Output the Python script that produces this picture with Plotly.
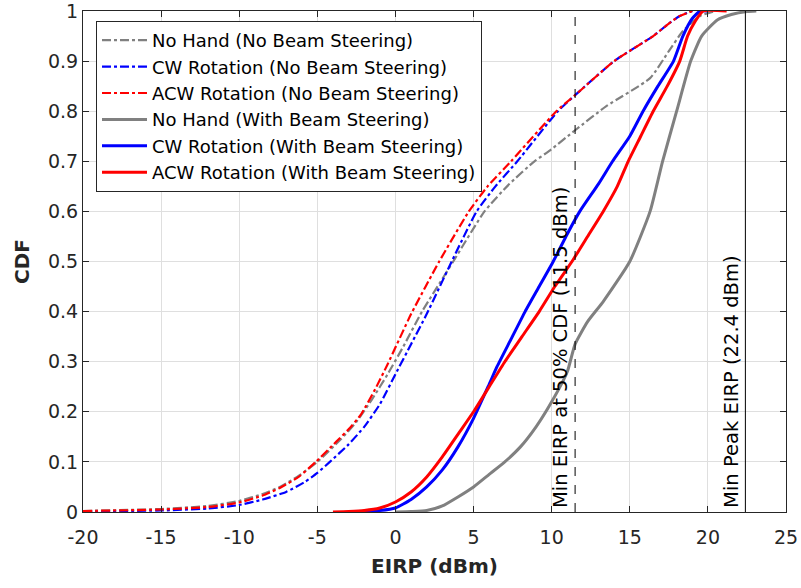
import plotly.graph_objects as go

# ---------------- data ----------------
nh_nb_x = [-20, -15, -12, -10, -8.5, -7.4, -6.2, -5.0, -3.5, -2.5, -1.5, -0.5, 0.5, 1.7, 3.7, 5.7, 7.3, 8.9, 9.9, 11.5, 13.5, 16.3, 17.5, 18.4, 19.5, 20.5]
nh_nb_y = [0.002, 0.006, 0.012, 0.022, 0.036, 0.05, 0.072, 0.1, 0.145, 0.18, 0.225, 0.275, 0.33, 0.4, 0.5, 0.6, 0.655, 0.7, 0.722, 0.762, 0.81, 0.866, 0.92, 0.96, 0.99, 1.0]

cw_nb_x = [-20, -15, -12, -10, -8.5, -7, -5.8, -5.0, -4.2, -3.0, -2.0, -1.0, 0.0, 1.0, 2.0, 3.6, 5.2, 6.4, 7.8, 10.4, 11.5, 14, 16.5, 17.5, 18.2, 19]
cw_nb_y = [0.001, 0.003, 0.007, 0.014, 0.025, 0.04, 0.06, 0.078, 0.1, 0.135, 0.17, 0.215, 0.275, 0.335, 0.395, 0.5, 0.6, 0.65, 0.7, 0.8, 0.832, 0.9, 0.95, 0.975, 0.99, 1.0]

acw_nb_x = [-20, -15, -12, -10, -8.5, -7.4, -6.2, -5.1, -3.8, -3.0, -2.2, -1.3, -0.5, 1.0, 2.8, 4.7, 5.9, 7.4, 10.3, 11.5, 14, 16.5, 17.5, 18.2, 19]
acw_nb_y = [0.002, 0.005, 0.01, 0.019, 0.033, 0.048, 0.07, 0.1, 0.14, 0.165, 0.195, 0.245, 0.295, 0.395, 0.5, 0.6, 0.65, 0.7, 0.8, 0.832, 0.9, 0.95, 0.975, 0.99, 1.0]

nh_bs_x = [0, 1, 2, 3, 4, 5, 6, 7, 8, 9, 10, 11, 11.5, 12.3, 13.3, 15, 16.3, 17.1, 18.0, 18.9, 19.6, 20.6, 21.5, 22.5, 23.1]
nh_bs_y = [0.0, 0.001, 0.003, 0.012, 0.03, 0.05, 0.075, 0.1, 0.13, 0.17, 0.22, 0.28, 0.335, 0.38, 0.42, 0.5, 0.6, 0.7, 0.8, 0.9, 0.95, 0.982, 0.993, 0.999, 1.0]

cw_bs_x = [-3, -2, -1, 0, 1, 2, 3, 4, 5, 6, 6.5, 7.4, 8.3, 9.2, 10.1, 11.0, 11.8, 13, 13.9, 15, 15.85, 16.8, 17.8, 18.4, 19, 19.5, 20]
cw_bs_y = [0.0, 0.001, 0.003, 0.008, 0.025, 0.05, 0.084, 0.13, 0.187, 0.255, 0.29, 0.345, 0.4, 0.45, 0.5, 0.555, 0.6, 0.655, 0.7, 0.75, 0.8, 0.85, 0.9, 0.95, 0.985, 1.0, 1.0]

acw_bs_x = [-4, -3, -2, -1, 0, 1, 2, 3, 4, 5, 6, 7, 8.1, 9.2, 10.2, 11.3, 12.3, 13.3, 14.2, 14.9, 15.7, 16.5, 17.4, 18.2, 18.7, 19.2, 19.7, 21.2]
acw_bs_y = [0.0, 0.001, 0.003, 0.008, 0.02, 0.04, 0.07, 0.11, 0.155, 0.2, 0.25, 0.3, 0.35, 0.4, 0.45, 0.5, 0.55, 0.6, 0.65, 0.7, 0.75, 0.8, 0.85, 0.9, 0.95, 0.98, 1.0, 1.0]

min_eirp_50 = 11.5
min_peak_eirp = 22.4
x_ticks = [-20, -15, -10, -5, 0, 5, 10, 15, 20, 25]
y_ticks = [0, 0.1, 0.2, 0.3, 0.4, 0.5, 0.6, 0.7, 0.8, 0.9, 1]

series = [
    ("No Hand (No Beam Steering)", nh_nb_x, nh_nb_y, "#808080", "dashdot", 2.2),
    ("CW Rotation (No Beam Steering)", cw_nb_x, cw_nb_y, "#0000ff", "dashdot", 2.2),
    ("ACW Rotation (No Beam Steering)", acw_nb_x, acw_nb_y, "#ff0000", "dashdot", 2.2),
    ("No Hand (With Beam Steering)", nh_bs_x, nh_bs_y, "#808080", "solid", 3),
    ("CW Rotation (With Beam Steering)", cw_bs_x, cw_bs_y, "#0000ff", "solid", 3),
    ("ACW Rotation (With Beam Steering)", acw_bs_x, acw_bs_y, "#ff0000", "solid", 3),
]

FONT = "DejaVu Sans, Arial, Helvetica, sans-serif"
fig = go.Figure()
for i, (name, xs, ys, col, dash, w) in enumerate(series):
    fig.add_trace(go.Scatter(x=xs, y=ys, mode="lines", name=name, legendgroup=f"g{i}",
                             line=dict(color=col, dash=dash, width=w, shape="spline", smoothing=0.5)))

fig.add_vline(x=min_eirp_50, line=dict(color="#000000", dash="dash", width=1))
fig.add_vline(x=min_peak_eirp, line=dict(color="#000000", width=1))

fig.add_annotation(x=min_eirp_50, y=0, xref="x", yref="y", text="Min EIRP at 50% CDF (11.5 dBm)",
                   textangle=-90, showarrow=False, xanchor="right", yanchor="bottom",
                   xshift=-1, yshift=2, font=dict(family=FONT, size=19.5, color="#000000"))
fig.add_annotation(x=min_peak_eirp, y=0, xref="x", yref="y", text="Min Peak EIRP (22.4 dBm)",
                   textangle=-90, showarrow=False, xanchor="right", yanchor="bottom",
                   xshift=-1, yshift=2, font=dict(family=FONT, size=19.5, color="#000000"))

axis_common = dict(showline=True, linecolor="#262626", linewidth=1, mirror="ticks",
                   ticks="inside", ticklen=6, tickcolor="#262626", automargin=False,
                   ticklabeloverflow="allow",
                   showgrid=True, gridcolor="#dfdfdf", gridwidth=1, zeroline=False,
                   tickfont=dict(family=FONT, size=19, color="#262626"))

fig.update_xaxes(range=[-20, 25], tickvals=x_ticks, ticktext=[str(v) for v in x_ticks],
                 ticklabelstandoff=8,
                 title=dict(text="<b>EIRP (dBm)</b>", font=dict(family=FONT, size=20, color="#262626"), standoff=12),
                 **axis_common)
fig.update_yaxes(range=[0, 1], tickvals=y_ticks, ticktext=[f"{v:g}" for v in y_ticks],
                 title=dict(text="<b>CDF</b>", font=dict(family=FONT, size=20, color="#262626"), standoff=12),
                 **axis_common)

fig.update_layout(
    width=801, height=588,
    margin=dict(l=83, r=15, t=11, b=76),
    plot_bgcolor="#ffffff", paper_bgcolor="#ffffff",
    font=dict(family=FONT, size=18, color="#262626"),
    legend=dict(x=0.0185, y=0.98, xanchor="left", yanchor="top",
                bgcolor="#ffffff", bordercolor="#262626", borderwidth=1,
                font=dict(family=FONT, size=18, color="#000000"),
                tracegroupgap=0, itemwidth=45),
    showlegend=True,
)

fig.write_html("out.html", config={"displayModeBar": False},
               post_script="document.body.style.margin='0';document.body.style.overflow='hidden';")
